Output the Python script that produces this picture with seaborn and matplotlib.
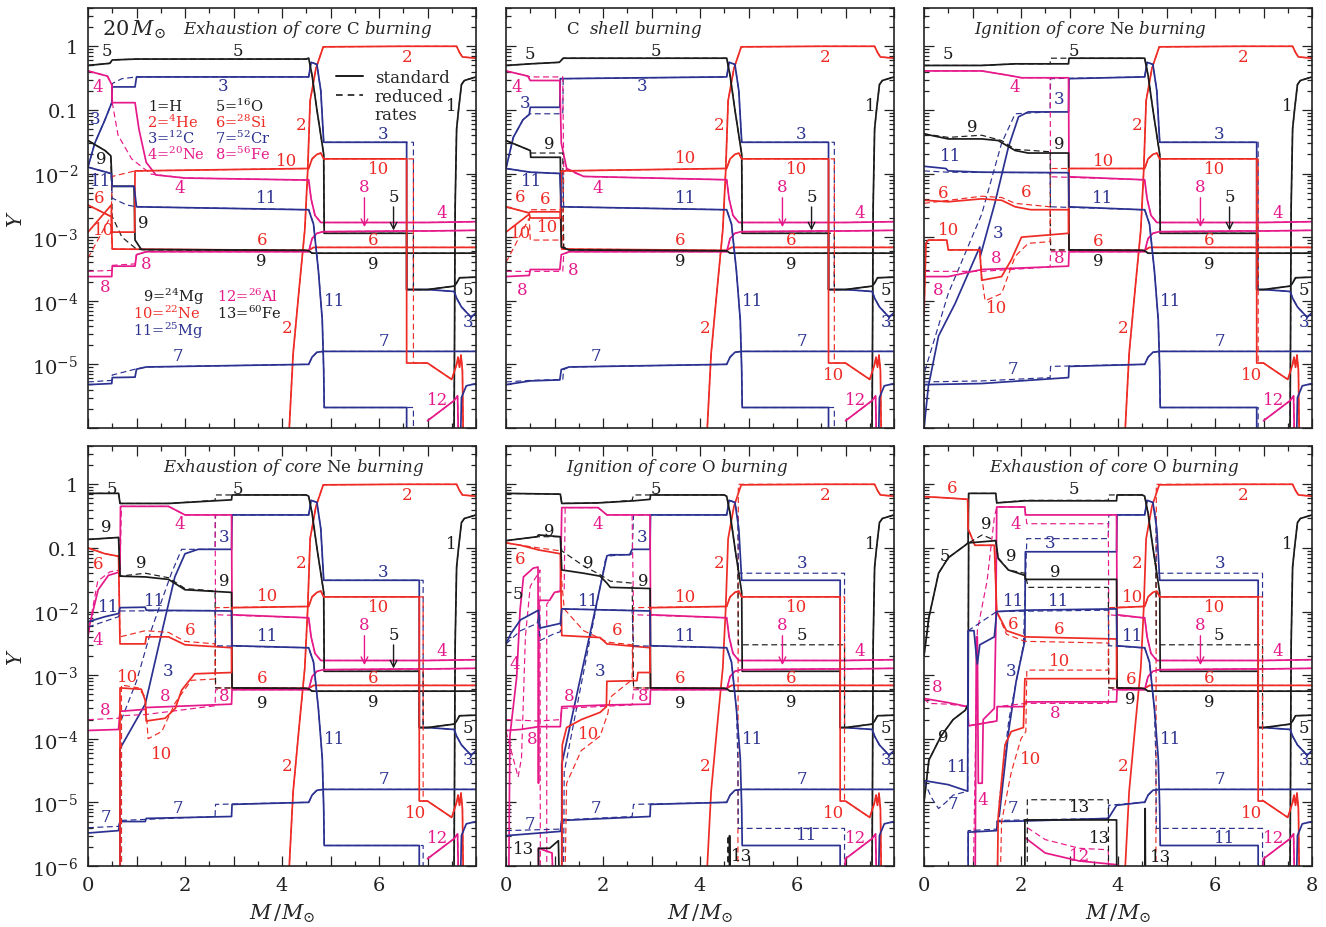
import seaborn as sns
import matplotlib.pyplot as plt
from matplotlib.lines import Line2D
from matplotlib.ticker import FixedLocator, MultipleLocator, LogLocator, NullFormatter

# colours used for the species (1=H ... 13=60Fe)
COLORS = {'k': '#1b1b1b', 'r': '#ee2b25', 'b': '#2b3190', 'm': '#e6198a'}
SPECIES_COLOR = {1: 'k', 2: 'r', 3: 'b', 4: 'm', 5: 'k', 6: 'r', 7: 'b', 8: 'm',
                 9: 'k', 10: 'r', 11: 'b', 12: 'm', 13: 'k'}
FLOOR = 1e-7

TITLES = [r'$\mathit{Exhaustion\ of\ core}\ \mathrm{C}\ \mathit{burning}$',
          r'$\mathrm{C}\ \ \mathit{shell\ burning}$',
          r'$\mathit{Ignition\ of\ core}\ \mathrm{Ne}\ \mathit{burning}$',
          r'$\mathit{Exhaustion\ of\ core}\ \mathrm{Ne}\ \mathit{burning}$',
          r'$\mathit{Ignition\ of\ core}\ \mathrm{O}\ \mathit{burning}$',
          r'$\mathit{Exhaustion\ of\ core}\ \mathrm{O}\ \mathit{burning}$']
TITLE_X = [0.566, 0.33, 0.428, 0.53, 0.44, 0.49]

# outer edge of the C shell (standard / reduced rates)
EDGE_SOLID = [6.57, 6.65, 6.86, 6.83, 6.89, 6.89]
EDGE_DASHED = [6.71, 6.77, 6.89, 6.91, 6.98, 6.98]

# envelope, inside the shell edge (same in every snapshot)
ENV_INNER = {
    2: [(4.14, 1e-7), (4.15, 1e-6), (4.23, 1.5e-5), (4.37, 2.1e-4), (4.47, 1.3e-3), (4.53, 0.011),
        (4.58, 0.14), (4.7, 0.45), (4.85, 0.98), (6.5, 1.0)],
    3: [(4.55, 0.33), (4.6, 0.56), (4.72, 0.52), (4.8, 0.2), (4.86, 0.031), (6.5, 0.031)],
    4: [(4.55, 8e-3), (4.6, 4e-3), (4.68, 2.2e-3), (4.8, 1.7e-3), (6.5, 1.7e-3)],
    5: [(4.55, 0.65), (4.62, 0.35), (4.72, 0.1), (4.8, 0.04), (4.86, 0.02), (4.87, 1.15e-3), (6.5, 1.15e-3)],
    6: [(4.55, 6.2e-4), (4.65, 6.9e-4), (6.5, 6.9e-4)],
    7: [(4.55, 1.0e-5), (4.62, 1.3e-5), (4.72, 1.55e-5), (4.85, 1.6e-5), (6.5, 1.6e-5)],
    8: [(4.55, 5.9e-4), (4.62, 9.5e-4), (4.72, 1.15e-3), (4.85, 1.22e-3), (6.5, 1.25e-3)],
    9: [(4.55, 6.1e-4), (4.62, 5.6e-4), (6.5, 5.6e-4)],
    10: [(4.55, 0.012), (4.62, 0.017), (4.72, 0.02), (4.8, 0.021), (4.86, 0.017), (6.5, 0.017)],
    11: [(4.55, 2.7e-3), (4.65, 1.6e-3), (4.75, 3e-4), (4.83, 5e-5), (4.86, 8e-6), (4.87, 2.1e-6), (6.5, 2.1e-6)],
}
# reduced rates, late snapshots (O burning)
ENV_INNER_LATE_DASHED = {
    2: [(4.78, 1e-7), (4.79, 1.0), (6.5, 1.0)],
    3: [(4.55, 0.33), (4.6, 0.56), (4.72, 0.52), (4.78, 0.3), (4.79, 0.04), (6.5, 0.04)],
    5: [(4.55, 0.65), (4.62, 0.35), (4.72, 0.1), (4.78, 0.05), (4.79, 3e-3), (6.5, 3e-3)],
    11: [(4.55, 2.7e-3), (4.65, 1.6e-3), (4.75, 3e-4), (4.78, 5e-5), (4.79, 3.9e-6), (6.5, 3.9e-6)],
}
# envelope, outside the shell edge
ENV_OUTER = {
    1: [(7.54, 1e-7), (7.555, 1e-5), (7.57, 3e-3), (7.6, 0.05), (7.64, 0.1), (7.7, 0.25), (7.76, 0.29), (8.0, 0.33)],
    2: [(7.0, 1.0), (7.6, 1.0), (7.66, 0.8), (7.72, 0.68), (8.0, 0.65)],
    3: [(7.0, 1.5e-4), (7.55, 1.4e-4), (7.6, 1.1e-4), (7.7, 8e-5), (7.9, 5.5e-5), (8.0, 6.5e-5)],
    4: [(7.0, 1.7e-3), (8.0, 1.75e-3)],
    5: [(7.0, 1.5e-4), (7.55, 1.7e-4), (7.6, 1.9e-4), (7.66, 2.3e-4), (8.0, 2.35e-4)],
    6: [(7.0, 6.9e-4), (8.0, 6.9e-4)],
    7: [(7.0, 1.6e-5), (8.0, 1.6e-5)],
    8: [(7.0, 1.25e-3), (8.0, 1.28e-3)],
    9: [(7.0, 5.6e-4), (8.0, 5.6e-4)],
    10: [(7.0, 1.05e-5), (7.5, 5.8e-6), (7.6, 1.0e-5), (7.63, 1.3e-5), (7.66, 9e-6), (7.69, 1.4e-5),
         (7.72, 8e-6), (7.75, 1e-7)],
    11: [(7.0, 1e-7)],
    12: [(7.0, 1.3e-6), (7.55, 2.7e-6), (7.62, 3.2e-6), (7.66, 1e-7)],
}
ENV_EXTRA_11 = [(7.66, 1e-7), (7.7, 3e-6), (7.8, 4.6e-6), (8.0, 5e-6)]

# ---- cores: Exhaustion of core C burning
P1_SOLID = {
    3: [(0, 0.0127), (0.14, 0.03), (0.35, 0.07), (0.49, 0.13), (0.5, 0.23), (0.97, 0.23), (1.0, 0.33), (4.5, 0.33)],
    4: [(0, 0.41), (0.4, 0.34), (0.49, 0.25), (0.5, 0.13), (0.97, 0.13), (1.05, 0.05), (1.2, 0.015), (1.4, 0.0095),
        (2.0, 8.5e-3), (4.5, 7.9e-3)],
    5: [(0, 0.5), (0.45, 0.54), (0.5, 0.61), (1.0, 0.63), (4.5, 0.63)],
    6: [(0, 3.2e-3), (0.48, 2.1e-3), (0.5, 6.5e-4), (4.5, 6.2e-4)],
    7: [(0, 4.8e-6), (0.49, 5e-6), (0.5, 6.2e-6), (0.97, 6.3e-6), (1.0, 8.4e-6), (1.2, 9.1e-6), (4.5, 1e-5)],
    8: [(0, 2.4e-4), (0.49, 2.4e-4), (0.5, 3.5e-4), (0.97, 3.5e-4), (1.0, 5.3e-4), (1.2, 5.9e-4), (4.5, 5.9e-4)],
    9: [(0, 0.033), (0.35, 0.023), (0.47, 0.019), (0.5, 6.3e-3), (0.95, 6.3e-3), (0.97, 9e-4), (1.1, 6.4e-4), (4.5, 6.2e-4)],
    10: [(0, 1.2e-3), (0.48, 3.2e-3), (0.5, 1.2e-3), (0.96, 1.2e-3), (0.97, 0.011), (4.5, 0.012)],
    11: [(0, 0.0126), (0.48, 0.010), (0.5, 6.3e-3), (0.95, 6.3e-3), (1.0, 3e-3), (4.5, 2.7e-3)],
}
P1_DASHED = {
    3: [(0, 0.0127), (0.14, 0.03), (0.35, 0.07), (0.49, 0.13), (0.5, 0.26), (0.7, 0.31), (1.0, 0.33), (4.5, 0.33)],
    4: [(0, 0.41), (0.4, 0.34), (0.49, 0.25), (0.5, 0.13), (0.62, 0.04), (0.9, 0.017), (1.3, 9.8e-3), (2.0, 8.5e-3),
        (4.5, 7.9e-3)],
    7: [(0, 5.3e-6), (0.49, 5.6e-6), (0.5, 6.8e-6), (0.97, 8.4e-6), (1.2, 9.1e-6), (4.5, 1e-5)],
    8: [(0, 2.9e-4), (0.49, 3.0e-4), (0.5, 3.6e-4), (0.97, 3.8e-4), (1.0, 5.3e-4), (1.2, 5.9e-4), (4.5, 5.9e-4)],
    9: [(0, 0.033), (0.35, 0.023), (0.47, 0.019), (0.5, 2.1e-3), (0.7, 1e-3), (1.0, 6.5e-4), (1.2, 6.3e-4), (4.5, 6.2e-4)],
    10: [(0, 4.7e-4), (0.48, 2.2e-3), (0.5, 9e-3), (0.97, 0.011), (4.5, 0.012)],
    11: [(0, 0.0126), (0.48, 0.010), (0.5, 4.1e-3), (0.8, 3.2e-3), (1.0, 3e-3), (4.5, 2.7e-3)],
}

# ---- C shell burning
P2_SOLID = {
    3: [(0, 0.012), (0.15, 0.037), (0.35, 0.07), (0.48, 0.085), (0.5, 0.11), (1.11, 0.11), (1.12, 0.31), (4.5, 0.33)],
    4: [(0, 0.41), (0.45, 0.34), (0.5, 0.29), (1.11, 0.29), (1.14, 0.03), (1.25, 0.012), (1.6, 9e-3), (4.5, 8e-3)],
    5: [(0, 0.5), (0.5, 0.53), (1.1, 0.56), (1.18, 0.65), (4.5, 0.65)],
    6: [(0, 3e-3), (0.48, 2.4e-3), (0.5, 2.5e-3), (1.12, 2.5e-3), (1.15, 6.5e-4), (4.5, 6.2e-4)],
    7: [(0, 4.8e-6), (0.5, 5.5e-6), (1.11, 5.7e-6), (1.14, 8.3e-6), (1.3, 9.1e-6), (4.5, 1e-5)],
    8: [(0, 2.4e-4), (0.48, 2.5e-4), (0.5, 3.1e-4), (1.11, 3.1e-4), (1.14, 5.3e-4), (1.3, 5.9e-4), (4.5, 5.9e-4)],
    9: [(0, 0.033), (0.5, 0.023), (0.51, 0.018), (1.12, 0.018), (1.14, 7e-4), (1.3, 6.3e-4), (4.5, 6.1e-4)],
    10: [(0, 1.2e-3), (0.48, 2.3e-3), (0.5, 2e-3), (1.12, 2e-3), (1.14, 0.011), (4.5, 0.012)],
    11: [(0, 0.012), (0.5, 0.0105), (1.11, 0.010), (1.14, 3e-3), (4.5, 2.7e-3)],
}
P2_DASHED = {
    3: [(0, 0.012), (0.15, 0.037), (0.35, 0.07), (0.48, 0.085), (0.5, 0.087), (1.17, 0.087), (1.18, 0.31), (4.5, 0.33)],
    4: [(0, 0.41), (0.45, 0.34), (0.5, 0.33), (1.17, 0.33), (1.19, 0.012), (1.6, 9e-3), (4.5, 8e-3)],
    6: [(0, 3e-3), (0.48, 2.4e-3), (0.5, 2.7e-3), (1.17, 2.7e-3), (1.19, 6.5e-4), (4.5, 6.2e-4)],
    7: [(0, 5.3e-6), (0.5, 5.6e-6), (1.17, 5.8e-6), (1.19, 8.3e-6), (1.3, 9.1e-6), (4.5, 1e-5)],
    8: [(0, 2.9e-4), (0.5, 2.9e-4), (1.17, 2.9e-4), (1.19, 5.3e-4), (1.3, 5.9e-4), (4.5, 5.9e-4)],
    9: [(0, 0.033), (0.5, 0.023), (0.51, 0.021), (1.17, 0.021), (1.19, 7e-4), (1.3, 6.3e-4), (4.5, 6.1e-4)],
    10: [(0, 4e-4), (0.48, 2e-3), (0.5, 9e-4), (1.17, 9e-4), (1.19, 0.011), (4.5, 0.012)],
    11: [(0, 0.012), (0.5, 0.0105), (1.17, 0.010), (1.19, 3e-3), (4.5, 2.7e-3)],
}

# ---- Ignition of core Ne burning
P3_SOLID = {
    3: [(0, 1e-6), (0.09, 4.5e-6), (0.3, 2.8e-5), (0.64, 9e-5), (1.15, 7e-4), (1.16, 5e-4), (1.46, 3.4e-3),
        (1.74, 0.026), (1.95, 0.078), (2.15, 0.093), (2.98, 0.093), (2.99, 0.31), (4.5, 0.33)],
    4: [(0, 0.41), (1.19, 0.41), (1.74, 0.35), (2.01, 0.32), (2.98, 0.32), (2.99, 8.9e-3), (4.5, 8e-3)],
    5: [(0, 0.5), (1.19, 0.5), (1.88, 0.53), (2.98, 0.53), (2.99, 0.65), (4.5, 0.65)],
    6: [(0, 3.8e-3), (0.5, 3.6e-3), (1.19, 4e-3), (1.6, 3.8e-3), (1.88, 3e-3), (2.2, 2.7e-3), (2.98, 2.7e-3),
        (2.99, 6.3e-4), (4.5, 6.2e-4)],
    7: [(0, 4.8e-6), (1.19, 5e-6), (2.98, 6.2e-6), (2.99, 9.3e-6), (4.5, 1e-5)],
    8: [(0, 2.4e-4), (0.5, 2.4e-4), (1.19, 3.1e-4), (2.98, 3.5e-4), (2.99, 5.9e-4), (4.5, 5.9e-4)],
    9: [(0, 0.042), (0.5, 0.035), (1.19, 0.035), (1.53, 0.033), (1.88, 0.023), (2.15, 0.021), (2.98, 0.021),
        (2.99, 6.3e-4), (4.5, 6.2e-4)],
    10: [(0, 6e-5), (0.04, 8e-4), (0.09, 9e-4), (0.47, 9e-4), (0.5, 6.3e-4), (1.15, 6.3e-4), (1.19, 2.1e-4),
         (1.6, 2.4e-4), (1.8, 4.4e-4), (2.01, 1e-3), (2.98, 1.15e-3), (2.99, 0.012), (4.5, 0.012)],
    11: [(0, 0.013), (0.45, 0.012), (0.5, 0.011), (1.19, 0.0105), (2.98, 0.0103), (2.99, 3e-3), (4.5, 2.7e-3)],
}
P3_DASHED = {
    3: [(0, 2e-6), (0.02, 8e-6), (0.5, 1.3e-4), (1.19, 2.3e-3), (1.6, 0.03), (1.88, 0.087), (2.6, 0.093),
        (2.61, 0.31), (4.5, 0.33)],
    4: [(0, 0.41), (1.19, 0.41), (1.74, 0.35), (2.01, 0.32), (2.6, 0.32), (2.61, 8.9e-3), (4.5, 8e-3)],
    5: [(0, 0.5), (1.19, 0.5), (1.88, 0.53), (2.6, 0.53), (2.61, 0.65), (4.5, 0.65)],
    6: [(0, 3.4e-3), (1.19, 4.4e-3), (1.6, 4.2e-3), (1.88, 3.4e-3), (2.6, 3e-3), (2.61, 6.3e-4), (4.5, 6.2e-4)],
    7: [(0, 5.3e-6), (1.19, 5.5e-6), (2.6, 6.2e-6), (2.61, 9.3e-6), (4.5, 1e-5)],
    8: [(0, 2.9e-4), (1.19, 2.9e-4), (2.6, 3.4e-4), (2.61, 5.9e-4), (4.5, 5.9e-4)],
    9: [(0, 0.042), (0.5, 0.037), (1.19, 0.040), (1.6, 0.033), (1.88, 0.024), (2.6, 0.022), (2.61, 6.3e-4),
        (4.5, 6.2e-4)],
    10: [(0, 6e-5), (0.04, 8e-4), (0.09, 9e-4), (0.47, 9e-4), (0.5, 6.3e-4), (1.15, 6.3e-4), (1.19, 2.4e-4),
         (1.26, 1e-4), (1.6, 1.3e-4), (1.88, 5e-4), (2.15, 8e-4), (2.6, 8.5e-4), (2.61, 0.012), (4.5, 0.012)],
    11: [(0, 0.011), (0.5, 0.0105), (2.6, 0.0103), (2.61, 3e-3), (4.5, 2.7e-3)],
}

# ---- Exhaustion of core Ne burning
P4_SOLID = {
    3: [(0.66, 1e-7), (0.66, 7e-5), (1.18, 3.5e-4), (1.5, 4e-3), (1.79, 0.035), (2.0, 0.081), (2.27, 0.095),
        (2.96, 0.095), (2.97, 0.33), (4.5, 0.33)],
    4: [(0, 4e-3), (0.04, 6.5e-3), (0.21, 0.022), (0.42, 0.037), (0.66, 0.042), (0.67, 0.45), (1.66, 0.45),
        (2.0, 0.33), (2.96, 0.33), (2.97, 8.9e-3), (4.5, 8e-3)],
    5: [(0, 0.72), (0.63, 0.72), (0.66, 0.5), (1.66, 0.5), (2.96, 0.57), (2.97, 0.68), (4.5, 0.68)],
    6: [(0, 0.10), (0.35, 0.081), (0.63, 0.074), (0.66, 3.1e-3), (1.18, 3.1e-3), (1.2, 4e-3), (1.66, 4e-3),
        (2.0, 3e-3), (2.96, 2.7e-3), (2.97, 6.3e-4), (4.5, 6.2e-4)],
    7: [(0, 3.3e-6), (0.63, 3.6e-6), (0.66, 5e-6), (1.18, 5e-6), (1.2, 5.6e-6), (2.96, 6e-6), (2.97, 9.3e-6), (4.5, 1e-5)],
    8: [(0, 1.35e-4), (0.63, 1.4e-4), (0.66, 2.7e-4), (1.18, 2.9e-4), (1.2, 3.1e-4), (2.96, 3.5e-4), (2.97, 5.9e-4),
        (4.5, 5.9e-4)],
    9: [(0, 0.136), (0.63, 0.146), (0.66, 0.036), (1.18, 0.035), (1.66, 0.032), (2.0, 0.022), (2.96, 0.020),
        (2.97, 6.3e-4), (4.5, 6.2e-4)],
    10: [(0.66, 1e-7), (0.66, 6.3e-4), (1.1, 6e-4), (1.18, 4e-4), (1.2, 1.9e-4), (1.59, 2.1e-4), (1.8, 3e-4),
         (1.93, 5.8e-4), (2.2, 1.05e-3), (2.96, 1.1e-3), (2.97, 0.0115), (4.5, 0.012)],
    11: [(0, 6.9e-3), (0.35, 8.3e-3), (0.63, 9.3e-3), (0.66, 0.0115), (1.18, 0.0117), (1.2, 0.0105), (2.96, 0.0102),
         (2.97, 2.9e-3), (4.5, 2.7e-3)],
}
P4_DASHED = {
    3: [(0.69, 1e-7), (0.69, 2e-4), (1.0, 8e-4), (1.3, 5e-3), (1.72, 0.04), (1.93, 0.095), (2.62, 0.095),
        (2.63, 0.33), (4.5, 0.33)],
    4: [(0, 4.5e-3), (0.2, 0.03), (0.45, 0.042), (0.66, 0.045), (0.69, 0.45), (1.66, 0.45), (2.0, 0.33),
        (2.62, 0.33), (2.63, 8.9e-3), (4.5, 8e-3)],
    5: [(0, 0.72), (0.63, 0.72), (0.66, 0.5), (1.66, 0.5), (2.62, 0.56), (2.63, 0.68), (4.5, 0.68)],
    6: [(0, 0.10), (0.35, 0.081), (0.63, 0.074), (0.66, 4e-3), (1.18, 5e-3), (1.66, 4.7e-3), (2.0, 3.4e-3),
        (2.62, 3.1e-3), (2.63, 6.3e-4), (4.5, 6.2e-4)],
    7: [(0, 4e-6), (0.63, 4.2e-6), (0.66, 5.2e-6), (2.62, 6e-6), (2.63, 9.3e-6), (4.5, 1e-5)],
    8: [(0, 2e-4), (0.63, 2.1e-4), (0.66, 2.3e-4), (1.18, 2.4e-4), (2.62, 3.3e-4), (2.63, 5.9e-4), (4.5, 5.9e-4)],
    9: [(0, 0.136), (0.63, 0.146), (0.66, 0.036), (1.18, 0.04), (1.66, 0.034), (2.0, 0.023), (2.62, 0.021),
        (2.63, 6.3e-4), (4.5, 6.2e-4)],
    10: [(0.69, 1e-7), (0.69, 7e-4), (1.04, 6.3e-4), (1.18, 4.5e-4), (1.24, 1e-4), (1.52, 1.3e-4), (1.8, 3.7e-4),
         (2.13, 8.3e-4), (2.62, 8.7e-4), (2.63, 0.0115), (4.5, 0.012)],
    11: [(0, 5.7e-3), (0.63, 8.3e-3), (0.66, 0.0102), (2.62, 0.0104), (2.63, 2.9e-3), (4.5, 2.7e-3)],
}

# ---- Ignition of core O burning
P5_SOLID = {
    3: [(1.15, 1e-7), (1.15, 4e-5), (2.08, 0.075), (2.15, 0.078), (2.55, 0.078), (2.6, 0.095), (2.97, 0.095),
        (2.98, 0.33), (4.5, 0.33)],
    4: [(0.05, 1e-7), (0.08, 1.1e-4), (0.22, 9.3e-4), (0.29, 0.0105), (0.36, 0.035), (0.56, 0.048), (0.66, 0.05),
        (0.67, 2e-5), (0.68, 0.015), (0.9, 0.015), (1.0, 0.02), (1.12, 0.021), (1.15, 0.43), (1.9, 0.43),
        (2.08, 0.33), (2.97, 0.33), (2.98, 8.9e-3), (4.5, 8e-3)],
    5: [(0, 0.72), (1.12, 0.70), (1.15, 0.5), (1.9, 0.51), (2.63, 0.55), (2.97, 0.58), (2.98, 0.68), (4.5, 0.68)],
    6: [(0, 0.12), (0.3, 0.11), (0.67, 0.093), (1.12, 0.081), (1.15, 4.2e-3), (1.94, 3.9e-3), (2.08, 3.1e-3),
        (2.97, 2.7e-3), (2.98, 6.3e-4), (4.5, 6.2e-4)],
    7: [(0, 3e-6), (1.12, 3.5e-6), (1.15, 5.2e-6), (2.97, 6e-6), (2.98, 9.3e-6), (4.5, 1e-5)],
    8: [(0, 1.35e-4), (0.3, 1.4e-4), (0.67, 1.55e-4), (1.12, 1.55e-4), (1.15, 3.2e-4), (2.08, 3.4e-4),
        (2.97, 3.5e-4), (2.98, 5.9e-4), (4.5, 5.9e-4)],
    9: [(0, 0.13), (0.64, 0.15), (0.67, 0.16), (1.12, 0.15), (1.15, 0.045), (1.6, 0.040), (1.94, 0.036),
        (2.08, 0.028), (2.15, 0.024), (2.97, 0.023), (2.98, 6.3e-4), (4.5, 6.2e-4)],
    10: [(1.15, 1e-7), (1.16, 8e-5), (1.25, 1.5e-4), (1.55, 2e-4), (1.94, 2.6e-4), (2.07, 3.2e-4), (2.08, 8e-4),
         (2.7, 8.2e-4), (2.72, 1.1e-3), (2.97, 1.1e-3), (2.98, 0.0115), (4.5, 0.012)],
    11: [(0, 3.1e-3), (0.1, 4.5e-3), (0.3, 7.4e-3), (0.67, 0.0105), (0.7, 5.5e-3), (1.12, 6.5e-3), (1.15, 0.011),
         (2.97, 0.0102), (2.98, 2.9e-3), (4.5, 2.7e-3)],
    12: [(0.67, 1e-7), (0.67, 1.9e-6), (0.95, 1.6e-6), (1.0, 1e-7)],
    13: [(0.67, 1e-7), (0.67, 1.9e-6), (0.9, 1.9e-6), (1.08, 2.5e-6), (1.12, 1e-7), (4.6, 1e-7), (4.61, 3e-6),
         (4.63, 1e-7)],
}
P5_DASHED = {
    3: [(1.18, 1e-7), (1.2, 3e-5), (2.05, 0.065), (2.15, 0.075), (2.6, 0.08), (2.63, 0.33), (4.5, 0.33)],
    4: [(0, 1.3e-4), (0.12, 6e-5), (0.25, 2.5e-5), (0.32, 5e-5), (0.4, 4e-3), (0.5, 0.025), (0.67, 0.04),
        (0.7, 0.045), (0.71, 1e-7), (0.84, 1e-7), (0.84, 0.013), (1.0, 0.02), (1.2, 0.021), (1.22, 0.43),
        (1.9, 0.43), (2.08, 0.33), (2.6, 0.33), (2.63, 8.9e-3), (4.5, 8e-3)],
    5: [(0, 0.72), (1.12, 0.70), (1.15, 0.5), (1.9, 0.51), (2.6, 0.56), (2.63, 0.68), (4.5, 0.68)],
    6: [(0, 0.12), (0.67, 0.10), (1.12, 0.09), (1.15, 0.03), (1.2, 0.011), (1.6, 5e-3), (2.1, 3.3e-3),
        (2.6, 3e-3), (2.63, 6.3e-4), (4.5, 6.2e-4)],
    7: [(0, 3.6e-6), (1.12, 3.8e-6), (1.15, 5.3e-6), (2.6, 6e-6), (2.63, 9.3e-6), (4.5, 1e-5)],
    8: [(0, 2e-4), (0.67, 1.9e-4), (1.12, 2e-4), (1.15, 3e-4), (2.6, 3.4e-4), (2.63, 5.9e-4), (4.5, 5.9e-4)],
    9: [(0, 0.13), (0.64, 0.15), (1.12, 0.15), (1.15, 0.09), (1.6, 0.052), (1.94, 0.038), (2.15, 0.03),
        (2.6, 0.028), (2.63, 6.3e-4), (4.5, 6.2e-4)],
    10: [(1.2, 1e-7), (1.25, 2e-5), (1.55, 6.5e-5), (1.94, 1.1e-4), (2.1, 2.5e-4), (2.15, 4.5e-4), (2.6, 8.5e-4),
         (2.63, 0.0115), (4.5, 0.012)],
    11: [(0, 3.1e-3), (0.3, 5e-3), (0.64, 6.5e-3), (0.67, 8e-3), (0.7, 3.5e-3), (1.0, 4.5e-3), (1.12, 4.8e-3),
         (1.15, 0.011), (2.6, 0.0104), (2.63, 2.9e-3), (4.5, 2.7e-3)],
    13: [(4.57, 1e-7), (4.58, 3e-6), (4.59, 1e-7)],
}

# ---- Exhaustion of core O burning
P6_SOLID = {
    3: [(1.55, 6e-6), (1.75, 1.4e-4), (1.9, 8e-4), (2.08, 3.5e-3), (2.09, 0.087), (3.97, 0.087), (3.98, 0.33),
        (4.5, 0.33)],
    4: [(1.05, 1e-7), (1.08, 4e-3), (1.1, 4e-3), (1.12, 2e-5), (1.2, 2e-5), (1.22, 2e-4), (1.45, 3e-4),
        (1.48, 5e-3), (1.5, 0.44), (2.08, 0.44), (2.09, 0.33), (3.97, 0.33), (3.98, 8.9e-3), (4.5, 8e-3)],
    5: [(0, 2e-3), (0.1, 8e-3), (0.3, 0.04), (0.5, 0.07), (0.85, 0.11), (0.91, 0.12), (0.92, 0.72), (1.48, 0.72),
        (1.5, 0.51), (2.08, 0.55), (3.97, 0.55), (3.98, 0.68), (4.5, 0.68)],
    6: [(0, 0.64), (0.5, 0.61), (0.9, 0.58), (0.91, 0.2), (1.05, 0.11), (1.45, 0.11), (1.5, 0.01), (1.7, 5e-3),
        (2.08, 4e-3), (3.97, 3.7e-3), (3.98, 6.3e-4), (4.5, 6.2e-4)],
    7: [(0.91, 1e-7), (0.91, 3.4e-6), (1.5, 3.6e-6), (1.51, 5e-6), (2.08, 5.1e-6), (3.8, 5.6e-6), (3.97, 9e-6),
        (4.5, 1e-5)],
    8: [(0, 4.3e-4), (0.5, 3.7e-4), (0.9, 3.2e-4), (0.92, 1.6e-4), (1.5, 1.9e-4), (1.51, 3.2e-4), (2.07, 3.2e-4),
        (2.08, 3.8e-4), (3.97, 3.8e-4), (3.98, 5.9e-4), (4.5, 5.9e-4)],
    9: [(0, 1e-5), (0.1, 4.6e-5), (0.35, 1.1e-4), (0.6, 2e-4), (0.85, 2.8e-4), (0.91, 3.5e-4), (0.92, 0.12),
        (1.48, 0.13), (1.53, 0.068), (1.74, 0.045), (2.08, 0.037), (2.09, 0.032), (3.97, 0.032), (3.98, 6.3e-4),
        (4.5, 6.2e-4)],
    10: [(1.5, 1e-7), (1.53, 6e-6), (1.67, 8e-5), (1.8, 1.3e-4), (2.05, 1.5e-4), (2.08, 8.8e-4), (3.97, 8.8e-4),
         (3.98, 0.0115), (4.5, 0.012)],
    11: [(0, 2.2e-5), (0.5, 1.9e-5), (0.9, 1.5e-5), (0.91, 5e-3), (1.03, 5e-3), (1.08, 2e-3), (1.1, 1.5e-3),
         (1.15, 3e-3), (1.45, 4e-3), (1.5, 0.01), (2.08, 0.0105), (3.97, 0.011), (3.98, 2.9e-3), (4.5, 2.7e-3)],
    12: [(2.08, 2.8e-6), (2.5, 1.6e-6), (3.2, 1.2e-6), (3.97, 1.05e-6)],
    13: [(2.08, 1e-7), (2.08, 5.3e-6), (3.97, 5.3e-6), (3.98, 1e-7), (4.55, 1e-7), (4.56, 8e-6), (4.57, 1e-7)],
}
P6_DASHED = {
    3: [(1.55, 1e-5), (1.75, 2e-4), (2.05, 3e-3), (2.12, 0.14), (3.8, 0.14), (3.81, 0.33), (4.5, 0.33)],
    4: [(1.0, 1e-7), (1.1, 5e-3), (1.3, 0.03), (1.45, 0.3), (1.5, 0.44), (2.08, 0.44), (2.12, 0.24), (3.8, 0.24),
        (3.81, 8.9e-3), (4.5, 8e-3)],
    5: [(0, 2e-3), (0.1, 8e-3), (0.3, 0.04), (0.5, 0.07), (0.85, 0.11), (0.91, 0.12), (0.92, 0.72), (1.48, 0.72),
        (1.5, 0.51), (2.08, 0.56), (3.8, 0.56), (3.81, 0.68), (4.5, 0.68)],
    6: [(0, 0.64), (0.5, 0.61), (0.9, 0.58), (0.91, 0.2), (1.05, 0.11), (1.45, 0.11), (1.5, 0.01), (1.7, 4.4e-3),
        (2.08, 3.4e-3), (3.8, 3.2e-3), (3.81, 6.3e-4), (4.5, 6.2e-4)],
    7: [(0.91, 1e-7), (0.91, 3.6e-6), (1.5, 3.8e-6), (1.51, 5.2e-6), (3.8, 5.6e-6), (3.81, 9e-6), (4.5, 1e-5)],
    8: [(0, 4.3e-4), (0.1, 3.6e-4), (0.5, 3.5e-4), (0.9, 3.2e-4), (0.92, 1.6e-4), (1.5, 1.9e-4), (1.51, 3.2e-4),
        (2.1, 3.6e-4), (3.8, 3.6e-4), (3.81, 5.9e-4), (4.5, 5.9e-4)],
    9: [(0, 1e-5), (0.1, 4.6e-5), (0.35, 1.1e-4), (0.6, 2e-4), (0.85, 2.8e-4), (0.91, 3.5e-4), (0.92, 0.12),
        (1.2, 0.16), (1.48, 0.13), (1.53, 0.07), (1.74, 0.045), (2.08, 0.04), (2.15, 0.024), (3.8, 0.024),
        (3.81, 6.3e-4), (4.5, 6.2e-4)],
    10: [(1.55, 1e-7), (1.6, 5e-6), (1.8, 3e-5), (2.0, 1e-4), (2.1, 1.3e-4), (2.12, 1.2e-3), (3.8, 1.2e-3),
         (3.81, 0.0115), (4.5, 0.012)],
    11: [(0, 2.2e-5), (0.15, 1.2e-5), (0.3, 8e-6), (0.45, 1e-5), (0.6, 1.3e-5), (0.9, 1.5e-5), (0.91, 5e-3),
         (1.5, 0.01), (3.8, 0.0105), (3.81, 2.9e-3), (4.5, 2.7e-3)],
    12: [(2.13, 4e-6), (2.5, 2.6e-6), (3.2, 1.9e-6), (3.8, 1.8e-6), (3.81, 1e-7)],
    13: [(2.13, 1e-7), (2.13, 1.1e-5), (3.8, 1.1e-5), (3.81, 1e-7)],
}

PANELS_SOLID = [P1_SOLID, P2_SOLID, P3_SOLID, P4_SOLID, P5_SOLID, P6_SOLID]
PANELS_DASHED = [P1_DASHED, P2_DASHED, P3_DASHED, P4_DASHED, P5_DASHED, P6_DASHED]

# curve labels (number, M, Y)
COMMON_LABELS = [("5", 3.09, 0.87), ("2", 6.59, 0.69), ("2", 4.39, 0.059), ("2", 4.1, 3.8e-5), ("10", 6.0, 0.012),
                 ("4", 7.29, 2.4e-3), ("6", 5.88, 9.1e-4), ("9", 5.88, 3.8e-4), ("1", 7.5, 0.117),
                 ("5", 7.84, 1.5e-4), ("3", 7.84, 4.8e-5), ("11", 5.09, 1.0e-4), ("7", 6.1, 2.4e-5),
                 ("12", 7.21, 2.8e-6), ("8", 5.7, 6.2e-3)]
P1_LABELS = [("5", 0.38, 0.87), ("4", 0.21, 0.23), ("3", 2.79, 0.24), ("3", 0.14, 0.072), ("9", 0.28, 0.017),
             ("11", 0.25, 7.9e-3), ("6", 0.23, 4.2e-3), ("10", 0.32, 1.3e-3), ("8", 1.19, 3.8e-4),
             ("8", 0.35, 1.67e-4), ("9", 1.14, 1.7e-3), ("4", 1.9, 6e-3), ("11", 3.68, 4.2e-3),
             ("10", 4.1, 0.0158), ("6", 3.58, 9.1e-4), ("9", 3.58, 4.3e-4), ("7", 1.85, 1.4e-5),
             ("3", 6.09, 0.042), ("5", 6.3, 4.4e-3)]
P2_LABELS = [("5", 0.49, 0.76), ("4", 0.22, 0.23), ("3", 0.39, 0.13), ("9", 0.89, 0.03), ("11", 0.53, 7.9e-3),
             ("6", 0.29, 4.3e-3), ("6", 0.8, 4e-3), ("10", 0.3, 1.2e-3), ("10", 0.85, 1.45e-3), ("8", 1.39, 3.1e-4),
             ("8", 0.34, 1.5e-4), ("3", 2.8, 0.24), ("4", 1.89, 6e-3), ("10", 3.7, 0.0178), ("11", 3.7, 4.2e-3),
             ("6", 3.59, 9.1e-4), ("9", 3.59, 4.3e-4), ("7", 1.85, 1.4e-5), ("3", 6.09, 0.042),
             ("10", 6.75, 7e-6), ("5", 6.3, 4.4e-3)]
P3_LABELS = [("5", 0.49, 0.76), ("4", 1.88, 0.23), ("3", 2.78, 0.15), ("9", 1.0, 0.054), ("9", 2.78, 0.03),
             ("11", 0.54, 0.019), ("6", 0.4, 5e-3), ("6", 2.1, 5.3e-3), ("10", 0.5, 1.3e-3), ("3", 1.53, 1.2e-3),
             ("8", 1.48, 4.8e-4), ("8", 2.78, 4.8e-4), ("8", 0.3, 1.5e-4), ("10", 1.5, 7.7e-5), ("7", 1.84, 8.6e-6),
             ("10", 3.7, 0.0158), ("11", 3.68, 4.2e-3), ("6", 3.6, 9e-4), ("9", 3.6, 4.3e-4), ("3", 6.09, 0.042),
             ("10", 6.75, 7e-6), ("5", 6.3, 4.4e-3)]
P4_LABELS = [("5", 0.49, 0.87), ("9", 0.38, 0.22), ("4", 1.9, 0.24), ("3", 2.81, 0.15), ("6", 0.2, 0.057),
             ("9", 1.1, 0.06), ("9", 2.81, 0.031), ("11", 0.43, 0.012), ("11", 1.38, 0.015), ("4", 0.2, 3.7e-3),
             ("6", 2.1, 5.3e-3), ("10", 0.82, 9.6e-4), ("3", 1.66, 1.2e-3), ("8", 1.59, 4.8e-4),
             ("8", 2.81, 4.8e-4), ("8", 0.35, 2.9e-4), ("10", 1.51, 5.9e-5), ("7", 0.38, 6e-6), ("7", 1.85, 8.4e-6),
             ("10", 3.71, 0.018), ("11", 3.71, 4.2e-3), ("6", 3.6, 9.1e-4), ("9", 3.6, 3.7e-4), ("3", 6.09, 0.042),
             ("10", 6.75, 7e-6), ("5", 6.3, 4.4e-3)]
P5_LABELS = [("9", 0.89, 0.19), ("6", 0.29, 0.068), ("9", 1.7, 0.06), ("5", 0.25, 0.019), ("4", 1.89, 0.24),
             ("3", 2.8, 0.15), ("9", 2.82, 0.031), ("11", 1.7, 0.015), ("4", 0.19, 1.5e-3), ("6", 2.3, 5.3e-3),
             ("3", 1.94, 1.2e-3), ("8", 1.3, 4.8e-4), ("8", 2.82, 4.8e-4), ("8", 0.54, 1e-4), ("10", 1.7, 1.2e-4),
             ("7", 0.49, 4.7e-6), ("7", 1.85, 8.4e-6), ("13", 0.36, 1.9e-6), ("10", 3.71, 0.017),
             ("11", 3.7, 4.2e-3), ("6", 3.6, 9.1e-4), ("9", 3.6, 3.7e-4), ("3", 6.1, 0.06), ("5", 6.1, 4.3e-3),
             ("11", 6.2, 3.1e-6), ("13", 4.86, 1.45e-6), ("10", 6.75, 7e-6)]
P6_LABELS = [("6", 0.59, 0.89), ("9", 1.29, 0.24), ("5", 0.43, 0.077), ("9", 1.79, 0.077), ("4", 1.89, 0.24),
             ("3", 2.6, 0.12), ("9", 2.7, 0.043), ("11", 1.84, 0.015), ("11", 2.78, 0.015), ("6", 1.84, 6.5e-3),
             ("6", 2.78, 5.4e-3), ("10", 2.8, 1.7e-3), ("3", 1.79, 1.2e-3), ("8", 0.28, 6.6e-4), ("8", 2.7, 2.6e-4),
             ("9", 0.4, 1.1e-4), ("10", 2.2, 4.9e-5), ("11", 0.69, 3.7e-5), ("7", 0.59, 9.5e-6), ("4", 1.22, 1.1e-5),
             ("7", 1.84, 8.4e-6), ("13", 3.2, 8.5e-6), ("13", 3.61, 2.8e-6), ("12", 3.2, 1.45e-6),
             ("6", 4.28, 8.8e-4), ("9", 4.25, 4.3e-4), ("10", 4.3, 0.017), ("11", 4.3, 4.2e-3), ("3", 6.1, 0.06),
             ("5", 6.08, 4.3e-3), ("11", 6.19, 2.8e-6), ("13", 4.87, 1.4e-6), ("10", 6.75, 7e-6)]
PANEL_LABELS = [P1_LABELS, P2_LABELS, P3_LABELS, P4_LABELS, P5_LABELS, P6_LABELS]

# species key in the first panel
KEY = [("1=H", 'k', 1.24, 0.117), ("2=$^4$He", 'r', 1.21, 0.067), ("3=$^{12}$C", 'b', 1.21, 0.037),
       ("4=$^{20}$Ne", 'm', 1.21, 0.021), ("5=$^{16}$O", 'k', 2.62, 0.117), ("6=$^{28}$Si", 'r', 2.62, 0.067),
       ("7=$^{52}$Cr", 'b', 2.62, 0.037), ("8=$^{56}$Fe", 'm', 2.62, 0.021),
       ("9=$^{24}$Mg", 'k', 1.14, 1.2e-4), ("10=$^{22}$Ne", 'r', 0.93, 6.5e-5), ("11=$^{25}$Mg", 'b', 0.93, 3.5e-5),
       ("12=$^{26}$Al", 'm', 2.65, 1.2e-4), ("13=$^{60}$Fe", 'k', 2.65, 6.5e-5)]

XTICKS = [0, 1, 2, 3, 4, 5, 6, 7, 8]
YTICKS = [1e-6, 1e-5, 1e-4, 1e-3, 1e-2, 0.1, 1]
YTICKLABELS = ['$10^{-6}$', '$10^{-5}$', '$10^{-4}$', '$10^{-3}$', '$10^{-2}$', '0.1', '1']


def build(core, sp, edge, inner):
    pts = list(core.get(sp, []))
    inn = inner.get(sp, [])
    out = ENV_OUTER.get(sp, [])
    pts += inn
    if inn and out:
        pts += [(edge, inn[-1][1]), (edge, out[0][1])]
    elif out and pts:
        pts += [(edge, FLOOR)]
    pts += out
    return pts


def draw_curve(ax, pts, color, dashed):
    if len(pts) < 2:
        return
    xs = [p[0] for p in pts]
    ys = [p[1] for p in pts]
    if dashed:
        sns.lineplot(x=xs, y=ys, ax=ax, color=color, lw=0.85, linestyle=(0, (5, 3)),
                     estimator=None, sort=False, legend=False)
    else:
        sns.lineplot(x=xs, y=ys, ax=ax, color=color, lw=1.25,
                     estimator=None, sort=False, legend=False)


sns.set_theme(style='ticks')
plt.rcParams['font.family'] = ['DejaVu Serif']
plt.rcParams['mathtext.fontset'] = 'dejavuserif'

fig = plt.figure(figsize=(13.26, 9.28), dpi=100)
lefts = [88 / 1326, 506 / 1326, 924 / 1326]
bottoms = [1 - 429 / 928, 1 - 867 / 928]
W, H = 388 / 1326, 420 / 928

for i in range(6):
    row, col = divmod(i, 3)
    ax = fig.add_axes([lefts[col], bottoms[row], W, H])
    ax.set_yscale('log')
    late = i >= 4
    dashed_inner = dict(ENV_INNER)
    if late:
        dashed_inner.update(ENV_INNER_LATE_DASHED)

    for sp in range(1, 14):
        color = COLORS[SPECIES_COLOR[sp]]
        dcore = PANELS_DASHED[i].get(sp, PANELS_SOLID[i].get(sp, []))
        draw_curve(ax, build({sp: dcore}, sp, EDGE_DASHED[i], dashed_inner), color, True)
        draw_curve(ax, build(PANELS_SOLID[i], sp, EDGE_SOLID[i], ENV_INNER), color, False)
    draw_curve(ax, ENV_EXTRA_11, COLORS['b'], False)

    ax.set_xlim(0, 8)
    ax.set_ylim(1e-6, 4.0)

    for txt, x, y in COMMON_LABELS + PANEL_LABELS[i]:
        ax.text(x, y, txt, color=COLORS[SPECIES_COLOR[int(txt)]], fontsize=12,
                ha='center', va='center')
    ax.annotate('', xy=(5.7, 1.3e-3), xytext=(5.7, 4.6e-3),
                arrowprops=dict(arrowstyle='->', color=COLORS['m'], lw=1.0))
    if i < 4:
        ax.annotate('', xy=(6.3, 1.15e-3), xytext=(6.3, 3.3e-3),
                    arrowprops=dict(arrowstyle='->', color=COLORS['k'], lw=1.0))

    ax.text(TITLE_X[i], 0.95, TITLES[i], transform=ax.transAxes, ha='center', va='center', fontsize=12)

    # ticks
    ax.xaxis.set_major_locator(FixedLocator(XTICKS))
    ax.xaxis.set_minor_locator(MultipleLocator(0.5))
    ax.yaxis.set_major_locator(FixedLocator(YTICKS))
    ax.yaxis.set_minor_locator(LogLocator(base=10, subs=range(2, 10), numticks=20))
    ax.yaxis.set_minor_formatter(NullFormatter())
    ax.tick_params(which='both', direction='in', top=True, right=True, width=0.9, colors='#222222')
    ax.tick_params(which='major', length=7)
    ax.tick_params(which='minor', length=3.5)
    ax.tick_params(axis='both', labelsize=14, pad=7)
    if col == 0:
        labels = list(YTICKLABELS)
        if row == 0:
            labels[0] = ''
        ax.set_yticklabels(labels)
        ax.set_ylabel('$Y$', fontsize=15, labelpad=4)
    else:
        ax.set_yticklabels([])
        ax.set_ylabel('')
    if row == 1:
        ax.set_xticklabels([str(t) if (t % 2 == 0 and (t < 8 or col == 2)) else '' for t in XTICKS])
        ax.set_xlabel(r'$M\,/M_{\odot}$', fontsize=15, labelpad=6)
    else:
        ax.set_xticklabels([])
        ax.set_xlabel('')
    for s in ax.spines.values():
        s.set_linewidth(1.2)
        s.set_color('#222222')

    if i == 0:
        ax.text(0.035, 0.95, r'$20\,M_{\odot}$', transform=ax.transAxes, ha='left', va='center', fontsize=15)
        for txt, c, x, y in KEY:
            ax.text(x, y, txt, color=COLORS[c], fontsize=10.5, ha='left', va='center')
        handles = [Line2D([], [], color=COLORS['k'], lw=1.4),
                   Line2D([], [], color=COLORS['k'], lw=1.2, linestyle=(0, (4, 3))),
                   Line2D([], [], color='none')]
        ax.legend(handles, ['standard', 'reduced', 'rates'], loc='upper left', bbox_to_anchor=(0.64, 0.855),
                  frameon=False, fontsize=12, handlelength=1.6, handletextpad=0.7, labelspacing=0.1,
                  borderpad=0, borderaxespad=0)

fig.savefig('out.png', dpi=100)
